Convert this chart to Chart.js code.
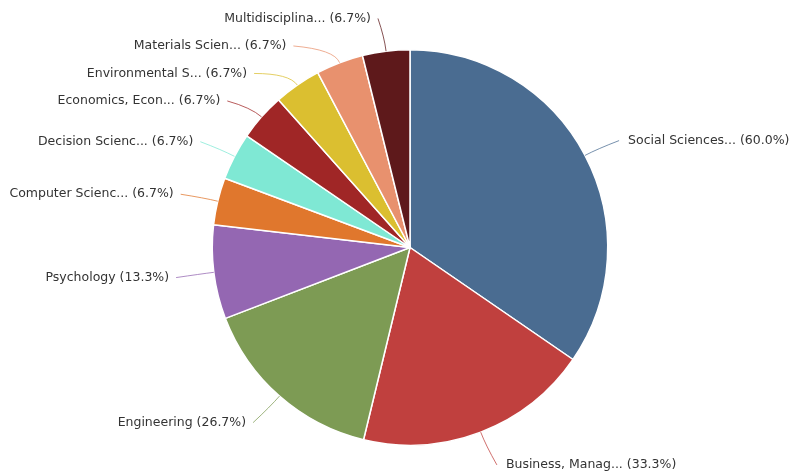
<!DOCTYPE html>
<html>
<head>
<meta charset="utf-8">
<script src="https://cdn.jsdelivr.net/npm/chart.js@4.4.1/dist/chart.umd.min.js"></script>
<style>
  html, body { margin: 0; padding: 0; background: #ffffff; }
  #wrap { width: 790px; height: 474px; position: relative; }
</style>
</head>
<body>
<div id="wrap"><canvas id="c" width="790" height="474"></canvas></div>
<script>
// Subject areas (truncated as displayed) and their share of documents (%)
const categories = [
  'Social Sciences...',
  'Business, Manag...',
  'Engineering',
  'Psychology',
  'Computer Scienc...',
  'Decision Scienc...',
  'Economics, Econ...',
  'Environmental S...',
  'Materials Scien...',
  'Multidisciplina...'
];
const shares = [60.0, 33.3, 26.7, 13.3, 6.7, 6.7, 6.7, 6.7, 6.7, 6.7];
const sliceColors = [
  '#4a6c91', '#c0403e', '#7d9b54', '#9467b2', '#e0772d',
  '#7fe8d4', '#a02626', '#dbbf30', '#e8916e', '#5e191b'
];

// Outside labels with curved connectors, stacked so they never overlap
const outsideLabels = {
  id: 'outsideLabels',
  afterDatasetsDraw(chart) {
    const ctx = chart.ctx;
    const meta = chart.getDatasetMeta(0);
    const arcs = meta.data;
    if (!arcs.length) return;
    const cx = arcs[0].x, cy = arcs[0].y;
    const r = arcs[0].outerRadius;
    const R = r + 34;
    const gap = 27.5;

    const items = arcs.map((a, i) => {
      const mid = (a.startAngle + a.endAngle) / 2;
      return {
        i, mid,
        ex: cx + Math.cos(mid) * r,
        ey: cy + Math.sin(mid) * r,
        y: cy + Math.sin(mid) * R,
        right: Math.cos(mid) >= 0
      };
    });

    // resolve vertical collisions on each side, top to bottom
    [true, false].forEach(side => {
      const list = items.filter(o => o.right === side).sort((a, b) => a.y - b.y);
      for (let k = 1; k < list.length; k++) {
        if (list[k].y < list[k - 1].y + gap) list[k].y = list[k - 1].y + gap;
      }
    });

    ctx.save();
    ctx.font = '12.5px "DejaVu Sans", sans-serif';
    ctx.textBaseline = 'middle';
    items.forEach(o => {
      const dy = Math.max(-R, Math.min(R, o.y - cy));
      const dx = Math.sqrt(R * R - dy * dy);
      const ax = o.right ? cx + dx : cx - dx;
      const ay = o.y + 1;
      const lx = o.right ? ax + 4 : ax - 4;
      // connector
      const kx = cx + Math.cos(o.mid) * (r + 14);
      const ky = cy + Math.sin(o.mid) * (r + 14);
      ctx.beginPath();
      ctx.moveTo(o.ex, o.ey);
      ctx.quadraticCurveTo(kx, ky, lx, ay);
      ctx.strokeStyle = sliceColors[o.i];
      ctx.globalAlpha = 0.75;
      ctx.lineWidth = 1;
      ctx.stroke();
      ctx.globalAlpha = 1;
      // text
      ctx.fillStyle = '#333333';
      ctx.textAlign = o.right ? 'left' : 'right';
      const tx = o.right ? ax + 13 : ax - 11;
      ctx.fillText(categories[o.i] + ' (' + shares[o.i].toFixed(1) + '%)', tx, ay);
    });
    ctx.restore();
  }
};

new Chart(document.getElementById('c'), {
  type: 'pie',
  data: {
    labels: categories,
    datasets: [{
      data: shares,
      backgroundColor: sliceColors,
      borderColor: '#ffffff',
      borderWidth: 1.5
    }]
  },
  options: {
    responsive: false,
    animation: false,
    layout: { padding: { top: 49, bottom: 28, left: 130, right: 100 } },
    plugins: {
      legend: { display: false },
      tooltip: { enabled: false }
    }
  },
  plugins: [outsideLabels]
});
</script>
</body>
</html>
